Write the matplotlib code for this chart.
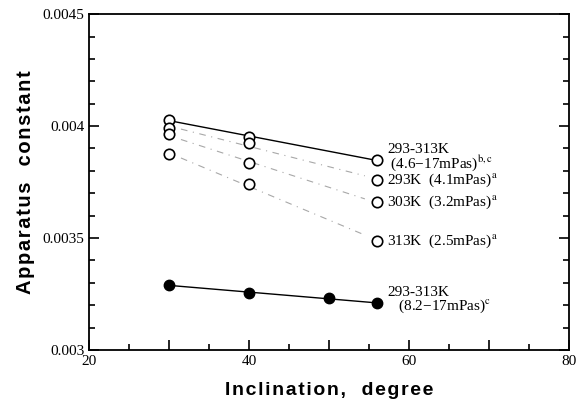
import numpy as np
import matplotlib
matplotlib.use("Agg")
import matplotlib.pyplot as plt
from matplotlib.ticker import MultipleLocator, FuncFormatter

plt.rcParams['font.family'] = ['Liberation Serif', 'DejaVu Serif']
plt.rcParams['mathtext.fontset'] = 'stix'

# data
x_open = [30, 40, 56]
y_all = [0.004027, 0.003952, 0.003848]   # 293-313K (4.6-17mPas)
y_293 = [0.003992, 0.003923, 0.003759]   # 293K
y_303 = [0.003963, 0.003833, 0.003661]   # 303K
y_313 = [0.003874, 0.003740, 0.003487]   # 313K

x_fill = [30, 40, 50, 56]
y_fill = [0.003290, 0.003255, 0.003230, 0.003210]

labels_open = [
    '293-313K\n (4.6\u221217mPas)$^{\\mathrm{b,c}}$',
    '293K  (4.1mPas)$^{\\mathrm{a}}$',
    '303K  (3.2mPas)$^{\\mathrm{a}}$',
    '313K  (2.5mPas)$^{\\mathrm{a}}$',
]
label_fill = '293-313K\n   (8.2\u221217mPas)$^{\\mathrm{c}}$'
xlabel = 'Inclination,  degree'
ylabel = 'Apparatus  constant'


def spaced(s):
    # wide letter spacing like the original print
    return '\u200a'.join(s)


fig = plt.figure(figsize=(5.78, 4.05), dpi=100)
ax = fig.add_axes([0.154, 0.136, 0.83, 0.829])

xs = np.array([30, 56])
msz = 7.5

# solid fitted line, top open series
p = np.polyfit(x_open, y_all, 1)
ax.plot(xs, np.polyval(p, xs), color='black', lw=1.0)
# faint dash-dot lines for the single-temperature series
for ys in (y_293, y_303, y_313):
    p = np.polyfit(x_open, ys, 1)
    ax.plot([31.5, 54.5], np.polyval(p, [31.5, 54.5]), color='#a8a8a8',
            lw=0.8, ls=(0, (6, 5, 1, 5)))

for ys in (y_all, y_293, y_303, y_313):
    ax.plot(x_open, ys, 'o', mfc='white', mec='black', mew=1.2, ms=msz,
            zorder=3)

p = np.polyfit(x_fill, y_fill, 1)
ax.plot(xs, np.polyval(p, xs), color='black', lw=1.0)
ax.plot(x_fill, y_fill, 'o', color='black', ms=msz, zorder=3)

# labels right of the last points
tx = 57.3
ax.text(tx, y_all[2] + 0.00001, labels_open[0], fontsize=11,
        va='center', linespacing=0.85)
for ys, lab in zip((y_293, y_303, y_313), labels_open[1:]):
    ax.text(tx, ys[2], lab, fontsize=11, va='center')
ax.text(tx, y_fill[3] + 0.00001, label_fill, fontsize=11, va='center',
        linespacing=0.85)

ax.set_xlim(20, 80)
ax.set_ylim(0.003, 0.0045)
ax.xaxis.set_major_locator(MultipleLocator(10))
ax.xaxis.set_minor_locator(MultipleLocator(5))
ax.xaxis.set_major_formatter(
    FuncFormatter(lambda v, pos: '%d' % v if round(v) % 20 == 0 else ''))
ax.yaxis.set_major_locator(MultipleLocator(0.0005))
ax.yaxis.set_minor_locator(MultipleLocator(0.0001))
ax.yaxis.set_major_formatter(FuncFormatter(lambda v, pos: ('%.4f' % v).rstrip('0')))

ax.tick_params(which='both', direction='in', right=True, top=False,
               labelsize=11, width=1.2)
ax.tick_params(which='major', length=7)
ax.tick_params(which='minor', length=4)
for s in ax.spines.values():
    s.set_linewidth(1.3)

ax.set_xlabel(spaced(xlabel), fontsize=14, fontweight='bold',
              family=['Liberation Sans', 'DejaVu Sans'], labelpad=10)
ax.set_ylabel(spaced(ylabel), fontsize=14.5, fontweight='bold',
              family=['Liberation Sans', 'DejaVu Sans'], labelpad=5)

fig.savefig('out.png', dpi=100)
